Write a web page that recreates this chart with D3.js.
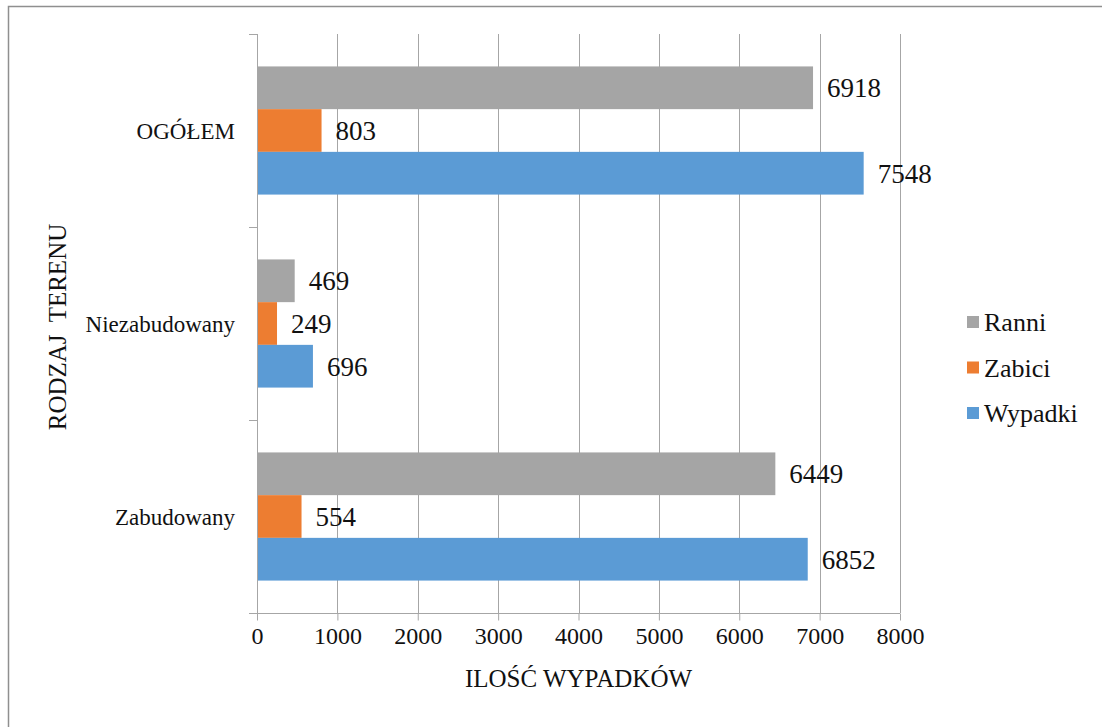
<!DOCTYPE html>
<html>
<head>
<meta charset="utf-8">
<script src="https://cdn.jsdelivr.net/npm/d3@7"></script>
<style>
  html, body { margin: 0; padding: 0; background: #fff; }
  svg { display: block; }
  svg text { font-family: "Liberation Serif", "Times New Roman", Tinos, "DejaVu Serif", serif; }
</style>
</head>
<body>
<svg id="chart" width="1102" height="727"></svg>
<script>
// Area types (top to bottom) and series (top to bottom within each group)
const categories = ["OGÓŁEM", "Niezabudowany", "Zabudowany"];
const seriesNames = ["Ranni", "Zabici", "Wypadki"];
const seriesColors = ["#A5A5A5", "#ED7D31", "#5B9BD5"];
const ranni   = [6918, 469, 6449];
const zabici  = [803, 249, 554];
const wypadki = [7548, 696, 6852];
const xTicks = [0, 1000, 2000, 3000, 4000, 5000, 6000, 7000, 8000];
const xTitle = "ILOŚĆ WYPADKÓW";
const yTitle = "RODZAJ  TERENU";

const seriesValues = [ranni, zabici, wypadki];

const svg = d3.select("#chart");
const plot = { left: 257, right: 900, top: 34, bottom: 613 };
const gridColor = "#A6A6A6";
const textColor = "#111";

// Chart frame
svg.append("path")
  .attr("d", "M8.5,727 L8.5,6.5 L1102,6.5")
  .attr("fill", "none").attr("stroke", "#8f8f8f").attr("stroke-width", 1.5);

const x = d3.scaleLinear().domain([0, 8000]).range([plot.left, plot.right]);
const y0 = d3.scaleBand().domain(categories).range([plot.top, plot.bottom]).padding(0);
const bw = y0.bandwidth();
const y1 = d3.scaleBand().domain(seriesNames).range([bw * 0.168, bw * 0.832]).padding(0);

// Vertical gridlines
svg.append("g").selectAll("line")
  .data(xTicks.filter(t => t > 0))
  .join("line")
  .attr("x1", d => Math.round(x(d)) + 0.5).attr("x2", d => Math.round(x(d)) + 0.5)
  .attr("y1", plot.top).attr("y2", plot.bottom)
  .attr("stroke", gridColor).attr("stroke-width", 1);

// Bars
const groups = svg.append("g").selectAll("g")
  .data(categories)
  .join("g")
  .attr("transform", d => `translate(0,${y0(d)})`);

groups.each(function(cat, ci) {
  const g = d3.select(this);
  seriesNames.forEach((s, si) => {
    const v = seriesValues[si][ci];
    g.append("rect")
      .attr("x", x(0))
      .attr("y", y1(s))
      .attr("width", x(v) - x(0))
      .attr("height", y1.bandwidth())
      .attr("fill", seriesColors[si]);
    g.append("text")
      .attr("x", x(v) + 14)
      .attr("y", y1(s) + y1.bandwidth() / 2)
      .attr("dy", "0.35em")
      .attr("font-size", 27)
      .attr("fill", textColor)
      .text(v);
  });
});

// Y axis (category axis with tick marks between groups)
const yAxisG = svg.append("g");
yAxisG.append("line")
  .attr("x1", plot.left + 0.5).attr("x2", plot.left + 0.5)
  .attr("y1", plot.top).attr("y2", plot.bottom)
  .attr("stroke", gridColor);
const bounds = categories.map(c => y0(c)).concat([plot.bottom]);
yAxisG.selectAll("line.tick")
  .data(bounds)
  .join("line").attr("class", "tick")
  .attr("x1", plot.left - 8).attr("x2", plot.left)
  .attr("y1", d => Math.round(d) + 0.5).attr("y2", d => Math.round(d) + 0.5)
  .attr("stroke", gridColor);
yAxisG.selectAll("text")
  .data(categories)
  .join("text")
  .attr("x", 235)
  .attr("y", d => y0(d) + bw / 2)
  .attr("dy", "0.35em")
  .attr("text-anchor", "end")
  .attr("font-size", 23)
  .attr("fill", textColor)
  .text(d => d);

// X axis
const xAxis = d3.axisBottom(x).tickValues(xTicks).tickSize(7).tickPadding(6).tickFormat(d3.format("d"));
const xAxisG = svg.append("g")
  .attr("transform", `translate(0,${plot.bottom + 0.5})`)
  .call(xAxis)
  .attr("font-family", null);
xAxisG.select(".domain")
  .attr("d", `M${plot.left - 8},0H${plot.right}`)
  .attr("stroke", gridColor);
xAxisG.selectAll(".tick line").attr("stroke", gridColor);
xAxisG.selectAll(".tick text")
  .attr("font-size", 24)
  .attr("fill", textColor);

// Axis titles
svg.append("text")
  .attr("x", (plot.left + plot.right) / 2)
  .attr("y", 678)
  .attr("dy", "0.35em")
  .attr("text-anchor", "middle")
  .attr("font-size", 25)
  .attr("fill", textColor)
  .text(xTitle);

svg.append("text")
  .attr("transform", "translate(57,327) rotate(-90)")
  .attr("dy", "0.35em")
  .attr("text-anchor", "middle")
  .attr("font-size", 25)
  .attr("fill", textColor)
  .style("white-space", "pre")
  .text(yTitle);

// Legend
const legend = svg.append("g").attr("transform", "translate(967,322)");
const legendRows = legend.selectAll("g")
  .data(seriesNames)
  .join("g")
  .attr("transform", (d, i) => `translate(0,${i * 45.5})`);
legendRows.append("rect")
  .attr("x", 0).attr("y", -6).attr("width", 12).attr("height", 12)
  .attr("fill", (d, i) => seriesColors[i]);
legendRows.append("text")
  .attr("x", 17).attr("y", 0).attr("dy", "0.35em")
  .attr("font-size", 26)
  .attr("fill", textColor)
  .text(d => d);
</script>
</body>
</html>
